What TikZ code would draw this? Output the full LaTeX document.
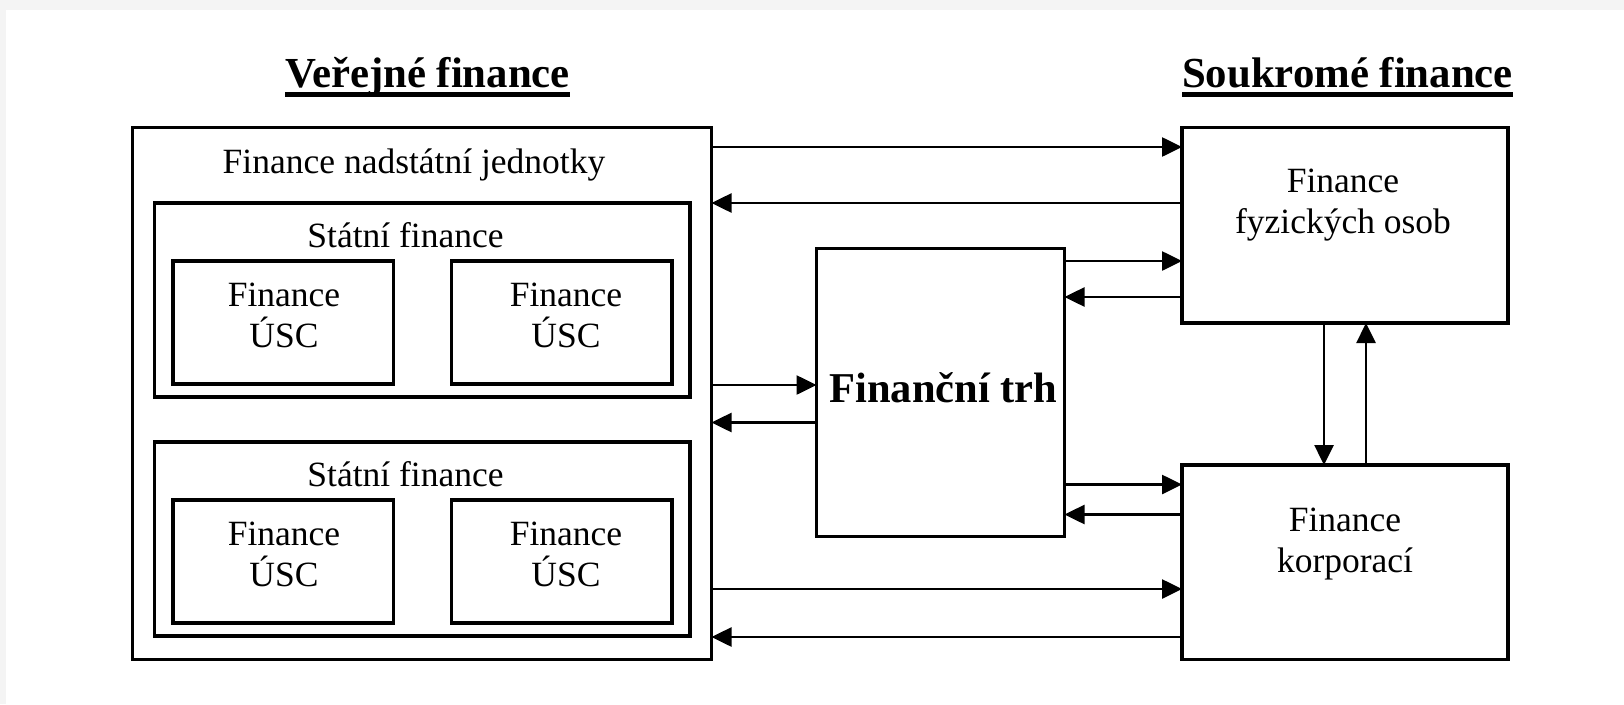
\documentclass[tikz,border=0pt]{standalone}
\usepackage{fontspec}
\setmainfont{Liberation Serif}
\usetikzlibrary{arrows.meta}
\definecolor{bgray}{HTML}{F4F4F4}
\begin{document}
\begin{tikzpicture}[x=1pt,y=-1pt]
\tikzset{
  box/.style={draw, line width=3.2pt, inner sep=0pt, outer sep=0pt},
  txt/.style={font=\fontsize{35.5}{40.5}\selectfont, inner sep=0pt, align=center, anchor=base},
  ttl/.style={font=\bfseries\fontsize{42.8}{48}\selectfont, inner sep=0pt, anchor=base},
  arr/.style={line width=2.6pt, -{Triangle[length=20pt 0,width=19pt 0]}}
}
\useasboundingbox (0,0) rectangle (1624,704);
\fill[bgray] (0,0) rectangle (1624,704);
\fill[white] (6,10) rectangle (1624,704);

% titles
\node[ttl] (tV) at (427.5,87) {Veřejné finance};
\node[ttl] (tSo) at (1347.5,87) {Soukromé finance};
\fill ([yshift=-5pt]tV.base west) rectangle ([yshift=-10pt]tV.base east);
\fill ([yshift=-5pt]tSo.base west) rectangle ([yshift=-10pt]tSo.base east);

% boxes
\node[box, minimum width=579pt, minimum height=532pt] (L) at (422,393.5) {};
\node[box, minimum width=535.5pt, minimum height=194pt] (S1) at (422.25,300) {};
\node[box, minimum width=220.5pt, minimum height=123pt] (U11) at (283.25,322.5) {};
\node[box, minimum width=220.5pt, minimum height=123pt] (U12) at (561.75,322.5) {};
\node[box, minimum width=535.5pt, minimum height=194pt] (S2) at (422.25,539) {};
\node[box, minimum width=220.5pt, minimum height=123pt] (U21) at (283.25,561.5) {};
\node[box, minimum width=220.5pt, minimum height=123pt] (U22) at (561.75,561.5) {};
\node[box, minimum width=248pt, minimum height=288pt] (T) at (940.5,392.5) {};
\node[box, minimum width=326pt, minimum height=195.5pt] (P) at (1345,225.25) {};
\node[box, minimum width=326pt, minimum height=194.5pt] (K) at (1345,562.25) {};

% texts (base = baseline of the last line)
\node[txt] (tL) at (414,173) {Finance nadstátní jednotky};
\node[txt] (tS1) at (405.5,247) {Státní finance};
\node[txt] (tU11) at (284,347) {Finance\\ÚSC};
\node[txt] (tU12) at (566,347) {Finance\\ÚSC};
\node[txt] (tS2) at (405.5,486) {Státní finance};
\node[txt] (tU21) at (284,586) {Finance\\ÚSC};
\node[txt] (tU22) at (566,586) {Finance\\ÚSC};
\node[font=\bfseries\fontsize{42.5}{48}\selectfont, inner sep=0pt, anchor=base] (tT) at (943.5,402) {Finanční trh};
\node[txt] (tP) at (1343,233) {Finance\\fyzických osob};
\node[txt] (tK) at (1345,572) {Finance\\korporací};

% arrows
\draw[arr] (L.east |- 0,147) -- (P.west |- 0,147);
\draw[arr] (P.west |- 0,203) -- (L.east |- 0,203);
\draw[arr] (T.east |- 0,261) -- (P.west |- 0,261);
\draw[arr] (P.west |- 0,297) -- (T.east |- 0,297);
\draw[arr] (L.east |- 0,385) -- (T.west |- 0,385);
\draw[arr] (T.west |- 0,422.5) -- (L.east |- 0,422.5);
\draw[arr] (T.east |- 0,484.5) -- (K.west |- 0,484.5);
\draw[arr] (K.west |- 0,514.5) -- (T.east |- 0,514.5);
\draw[arr] (L.east |- 0,589) -- (K.west |- 0,589);
\draw[arr] (K.west |- 0,637) -- (L.east |- 0,637);
\draw[arr] (P.south -| 1324,0) -- (K.north -| 1324,0);
\draw[arr] (K.north -| 1366,0) -- (P.south -| 1366,0);
\end{tikzpicture}
\end{document}
